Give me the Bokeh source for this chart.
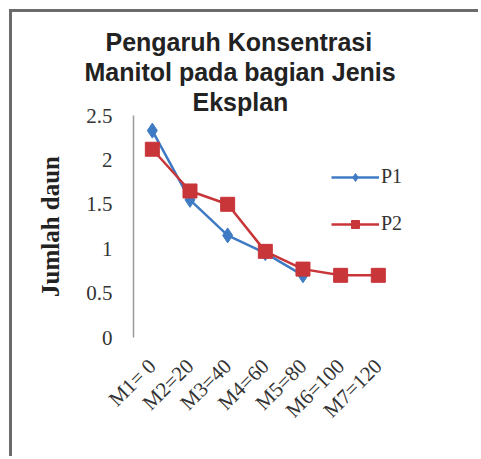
import math
from bokeh.plotting import figure
from bokeh.models import Range1d, Legend, LegendItem, FixedTicker, Title
from bokeh.embed import file_html
from bokeh.resources import INLINE

categories = ["M1= 0", "M2=20", "M3=40", "M4=60", "M5=80", "M6=100", "M7=120"]
p1_values = [2.33, 1.55, 1.15, 0.95, 0.70]
p2_values = [2.12, 1.65, 1.50, 0.97, 0.77, 0.70, 0.70]
y_ticks = [0, 0.5, 1, 1.5, 2, 2.5]
title_lines = ["Pengaruh Konsentrasi", "Manitol pada bagian Jenis", "Eksplan"]
y_label = "Jumlah daun"

xpos = list(range(len(categories)))

p = figure(width=469, height=447, x_range=Range1d(-0.5, 8.74), y_range=Range1d(0, 2.5),
           output_backend="svg", toolbar_location=None,
           min_border_left=121, min_border_right=0, min_border_top=103, min_border_bottom=122,
           margin=(12, 0, 0, 12))
p.styles = {"box-shadow": "-3px -3px 0 0 #6b6b6b"}
p.outline_line_color = None
p.xgrid.grid_line_color = None
p.ygrid.grid_line_color = None
p.background_fill_color = "white"
p.border_fill_color = "white"

blue = "#3F7BC4"
red = "#C8363A"
r1 = p.line(xpos[:len(p1_values)], p1_values, line_color=blue, line_width=2.5)
m1 = p.scatter(xpos[:len(p1_values)], p1_values, marker="diamond", size=15,
               fill_color=blue, line_color=blue)
r2 = p.line(xpos, p2_values, line_color=red, line_width=2.5)
m2 = p.scatter(xpos, p2_values, marker="square", size=14, fill_color=red, line_color=red)

serif = "Liberation Serif"
ya = p.yaxis[0]
ya.ticker = FixedTicker(ticks=y_ticks)
ya.major_tick_line_color = None
ya.minor_tick_line_color = None
ya.axis_line_color = "#999999"
ya.axis_line_width = 1.5
ya.major_label_text_font = serif
ya.major_label_text_font_size = "21px"
ya.major_label_text_color = "#333333"
ya.major_label_standoff = 15
ya.axis_label = y_label
ya.axis_label_text_font = serif
ya.axis_label_text_font_style = "bold"
ya.axis_label_text_font_size = "25px"
ya.axis_label_text_color = "#222222"
ya.axis_label_standoff = 19

xa = p.xaxis[0]
xa.ticker = FixedTicker(ticks=xpos)
xa.major_label_overrides = {i: c for i, c in zip(xpos, categories)}
xa.axis_line_color = None
xa.major_tick_line_color = None
xa.minor_tick_line_color = None
xa.major_label_orientation = math.pi / 4
xa.major_label_text_font = serif
xa.major_label_text_font_size = "21px"
xa.major_label_text_color = "#333333"
xa.major_label_standoff = 19

legend = Legend(items=[LegendItem(label="P1", renderers=[r1, m1]),
                       LegendItem(label="P2", renderers=[r2, m2])],
                location=(198, 102))
legend.background_fill_alpha = 0
legend.border_line_color = None
legend.label_text_font = serif
legend.label_text_font_size = "20px"
legend.label_text_color = "#333333"
legend.glyph_width = 48
legend.glyph_height = 20
legend.spacing = 24
legend.padding = 0
legend.margin = 0
legend.label_standoff = 2
p.add_layout(legend)

offsets = [-28, -49, 59]
for t, off in reversed(list(zip(title_lines, offsets))):
    p.add_layout(Title(text=t, align="left", offset=off, standoff=0,
                       text_font="Liberation Sans", text_font_style="bold",
                       text_font_size="25px", text_color="#222222",
                       text_line_height=1.15), "above")

open("out.html", "w").write(file_html(p, INLINE))
